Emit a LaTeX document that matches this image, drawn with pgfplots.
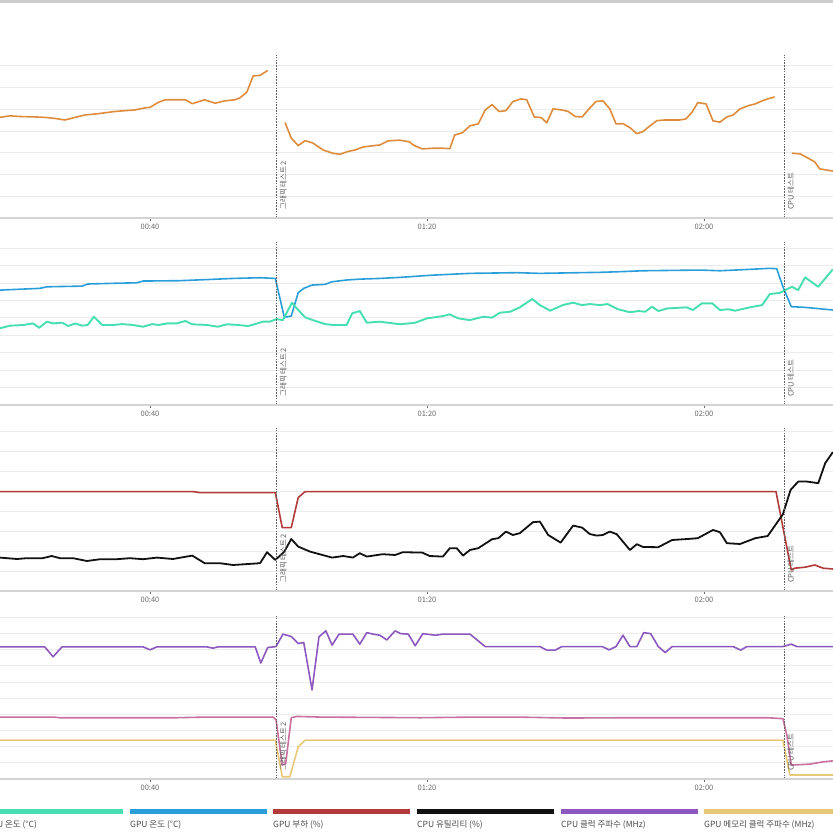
\documentclass[border=0pt]{standalone}
\usepackage{fontspec}
\setmainfont{Noto Sans CJK KR}
\usepackage{pgfplots}
\pgfplotsset{compat=1.18}

\definecolor{cOrange}{RGB}{222,140,60}
\definecolor{cTeal}{RGB}{70,222,178}
\definecolor{cBlue}{RGB}{42,158,216}
\definecolor{cRed}{RGB}{178,58,58}
\definecolor{cBlack}{RGB}{17,17,17}
\definecolor{cPurple}{RGB}{140,88,192}
\definecolor{cPink}{RGB}{202,112,160}
\definecolor{cYellow}{RGB}{230,200,120}
\definecolor{gridgray}{RGB}{236,236,236}
\definecolor{axisgray}{RGB}{212,212,212}
\definecolor{labelgray}{RGB}{105,105,105}
\definecolor{markgray}{RGB}{95,95,95}

\pgfplotsset{
  panel/.style={
    at={(0pt,#1)}, anchor=south west,
    scale only axis, width=833pt, height=163pt,
    xmin=18.34, xmax=138.63, ymin=0,
    axis line style={draw=none},
    xtick={40,80,120}, xticklabels={00:40,01:20,02:00},
    xtick pos=left, tick align=outside, major tick length=3pt,
    xtick style={draw=labelgray, line width=0.6pt},
    ytick style={draw=none}, yticklabels={}, yticklabel style={overlay},
    ymajorgrids, grid style={draw=gridgray, line width=0.8pt},
    xticklabel style={font=\fontsize{7.5}{8}\selectfont, text=labelgray},
    after end axis/.code={
      \draw[axisgray, line width=1.4pt] (rel axis cs:0,0) -- (rel axis cs:1,0);},
  },
}
\tikzset{
  sline/.style={line width=1.6pt, line join=round, #1},
  dashline/.style={draw=markgray, line width=0.9pt, dash pattern=on 1.6pt off 1.2pt},
  vlabel/.style={rotate=90, anchor=north west, inner sep=1pt,
    font=\fontsize{7.5}{8}\selectfont, text=markgray},
}

\begin{document}
\begin{tikzpicture}[trim left=0pt, trim right=833pt]
\path (0,0) rectangle (833pt,833pt);
\fill[black!20] (0,830pt) rectangle (833pt,833pt);

% panel 1
\begin{axis}[panel=615pt, ymax=75, ytick={10,20,...,70}]
\addplot[sline=cOrange] coordinates {
(18.3,46.3)(19.8,47.0)(21.2,46.7)(23.4,46.5)(24.8,46.3)(26.3,45.8)(27.7,45.1)
(29.2,46.3)(30.6,47.4)(32.8,48.1)(34.9,49.0)(36.4,49.4)(37.8,49.7)(39.3,50.7)
(40.0,50.9)(41.2,53.2)(42.2,54.4)(45.1,54.4)(46.1,52.6)(47.9,54.4)(49.4,52.8)
(50.8,53.9)(52.3,54.4)(53.0,55.3)(54.0,58.0)(54.9,65.4)(55.9,65.6)(57.0,67.9)};
\addplot[sline=cOrange] coordinates {
(59.5,43.9)(60.4,36.8)(61.4,33.3)(62.4,35.6)(63.5,34.5)(65.0,31.3)(66.4,29.8)
(67.4,29.3)(68.6,30.6)(69.6,31.3)(70.8,32.7)(72.1,33.2)(73.2,33.6)(74.4,35.5)
(76.1,35.8)(77.5,35.0)(78.0,33.6)(79.3,31.8)(80.9,32.1)(82.3,32.1)(83.3,31.9)
(84.0,38.2)(85.1,39.2)(86.2,42.4)(87.4,43.3)(88.4,49.7)(89.4,52.2)(90.4,49.0)
(91.4,49.4)(92.4,53.6)(93.6,54.8)(94.4,54.4)(95.5,46.5)(96.5,46.2)(97.3,43.8)
(98.2,50.2)(99.5,49.7)(100.4,49.0)(101.4,46.7)(102.4,46.5)(103.4,50.2)(104.4,53.6)
(105.4,53.9)(106.4,50.2)(107.3,43.3)(108.3,43.4)(109.3,41.6)(110.3,38.8)(111.2,39.8)
(112.2,42.4)(113.2,44.8)(114.4,45.1)(116.5,45.1)(117.4,45.6)(118.3,48.8)(119.1,53.1)
(120.3,52.5)(121.3,44.7)(122.3,44.1)(123.3,46.5)(124.2,47.4)(125.2,50.2)(126.4,51.7)
(127.4,52.5)(128.4,53.9)(129.2,54.8)(130.2,55.7)};
\addplot[sline=cOrange] coordinates {
(132.7,29.8)(133.9,29.5)(135.0,27.6)(136.0,25.8)(136.7,22.6)(138.6,21.6)};
\addplot[dashline] coordinates {(58.3,0)(58.3,75)};
\addplot[dashline] coordinates {(131.6,0)(131.6,75)};
\node[vlabel] at ([xshift=2pt,yshift=7pt]axis cs:58.3,0) {그래픽 테스트 2};
\node[vlabel] at ([xshift=2pt,yshift=7pt]axis cs:131.6,0) {CPU 테스트};
\end{axis}

% panel 2
\begin{axis}[panel=428pt, ymax=93.5, ytick={10,20,...,90}]
\addplot[sline=cBlue] coordinates {
(18.3,65.9)(24.1,66.9)(25.1,67.8)(30.2,68.2)(31.0,69.4)(34.7,69.8)(38.1,70.1)
(39.0,71.1)(44.3,71.3)(49.1,72.1)(52.0,72.6)(55.9,73.0)(58.1,72.6)(59.4,50.3)
(60.4,51.0)(61.4,64.4)(62.2,66.9)(63.4,68.8)(65.3,69.2)(66.3,70.7)(68.4,71.7)
(70.3,72.2)(73.2,72.6)(76.1,73.2)(80.9,74.5)(86.2,75.5)(93.0,75.9)(96.3,75.5)
(105.0,76.1)(107.4,76.4)(111.2,77.0)(119.4,77.4)(122.3,77.0)(126.6,77.8)(129.5,78.4)
(130.5,78.2)(131.4,67.8)(132.6,56.4)(134.6,56.0)(138.6,54.5)};
\addplot[sline=cTeal, line width=1.9pt] coordinates {
(18.3,44.0)(19.8,45.5)(21.7,45.9)(23.1,46.8)(24.0,44.3)(25.1,47.8)(26.0,46.8)
(27.3,47.2)(28.2,45.3)(29.2,46.8)(30.2,45.5)(31.0,45.9)(31.9,50.6)(33.1,45.9)
(34.7,45.9)(36.0,46.4)(37.5,45.9)(39.0,44.9)(40.3,46.4)(41.2,45.9)(42.5,46.8)
(43.9,46.8)(45.1,48.2)(46.1,46.3)(48.2,45.9)(49.8,44.9)(51.1,46.3)(52.7,45.9)
(54.2,45.3)(55.5,46.8)(56.3,47.8)(57.3,47.8)(58.3,49.3)(59.2,48.7)(60.5,58.7)
(61.2,55.4)(62.4,50.3)(63.5,48.7)(65.3,46.4)(66.4,45.9)(68.4,45.9)(69.2,52.6)
(70.3,53.9)(71.3,47.2)(73.2,47.8)(76.1,46.3)(78.3,47.2)(80.0,49.7)(82.3,51.0)
(83.3,52.0)(84.5,49.7)(86.2,48.7)(88.1,50.6)(89.4,50.1)(90.5,52.9)(92.0,53.5)
(93.4,56.0)(95.2,60.8)(96.3,57.3)(97.8,54.1)(99.6,57.3)(101.1,58.7)(102.4,57.3)
(103.5,57.9)(105.0,57.3)(106.1,57.9)(107.6,54.9)(109.3,53.2)(110.5,53.9)(111.5,53.5)
(112.5,56.4)(113.4,53.9)(114.7,55.4)(117.5,56.0)(118.4,54.5)(119.7,58.3)(121.2,58.3)
(122.3,54.5)(123.5,54.9)(124.5,54.1)(126.6,56.0)(128.4,57.3)(129.5,63.6)(131.0,64.4)
(131.7,65.9)(132.7,67.8)(133.6,65.9)(134.6,73.2)(136.5,67.8)(138.6,77.8)};
\addplot[dashline] coordinates {(58.3,0)(58.3,93.5)};
\addplot[dashline] coordinates {(131.6,0)(131.6,93.5)};
\node[vlabel] at ([xshift=2pt,yshift=7pt]axis cs:58.3,0) {그래픽 테스트 2};
\node[vlabel] at ([xshift=2pt,yshift=7pt]axis cs:131.6,0) {CPU 테스트};
\end{axis}

% panel 3
\begin{axis}[panel=242pt, ymax=81.5, ytick={10,20,...,80}]
\addplot[sline=cRed] coordinates {
(18.3,49.7)(46.2,49.7)(47.2,49.2)(58.1,49.2)(59.1,31.7)(60.4,31.7)(61.4,46.7)
(62.4,49.7)(130.4,49.7)(132.6,10.5)(133.1,11.4)(134.6,11.9)(136.0,13.0)(137.2,11.4)
(138.6,11.0)};
\addplot[sline=cBlack, line width=1.8pt] coordinates {
(18.3,16.7)(20.8,16.0)(22.2,16.4)(24.5,16.4)(25.8,17.5)(27.0,16.4)(28.9,16.4)
(30.9,15.0)(32.8,15.9)(35.2,15.9)(37.1,16.4)(39.0,15.9)(41.0,16.7)(43.3,16.0)
(46.1,17.7)(47.9,13.9)(50.1,13.9)(52.0,13.0)(55.9,13.9)(56.9,19.4)(58.1,15.5)
(59.4,19.7)(60.4,26.0)(61.4,22.2)(63.1,19.7)(66.3,16.7)(67.9,17.5)(69.3,16.7)
(70.3,18.9)(71.3,17.2)(73.6,18.4)(75.4,18.0)(76.5,19.4)(79.3,19.2)(80.4,17.5)
(82.3,17.2)(83.3,21.4)(84.3,21.4)(85.2,17.7)(86.2,20.5)(87.4,21.4)(89.4,25.9)
(90.3,26.4)(91.4,29.7)(92.4,28.0)(93.4,28.9)(95.3,34.4)(96.3,34.7)(97.5,28.0)
(99.3,24.2)(101.1,32.7)(102.4,31.7)(103.5,28.5)(104.5,27.7)(105.4,28.0)(106.4,29.7)
(107.4,28.4)(109.3,20.5)(110.3,23.4)(111.2,22.0)(113.4,21.9)(115.4,25.5)(117.6,26.0)
(119.1,26.4)(121.3,30.5)(122.3,29.4)(123.3,23.9)(125.2,23.5)(127.4,26.4)(129.2,27.5)
(131.4,38.4)(132.5,50.5)(133.6,54.7)(134.9,54.7)(136.5,53.9)(137.5,63.9)(138.6,69.4)};
\addplot[dashline] coordinates {(58.3,0)(58.3,81.5)};
\addplot[dashline] coordinates {(131.6,0)(131.6,81.5)};
\node[vlabel] at ([xshift=2pt,yshift=7pt]axis cs:58.3,0) {그래픽 테스트 2};
\node[vlabel] at ([xshift=2pt,yshift=7pt]axis cs:131.6,0) {CPU 테스트};
\end{axis}

% panel 4
\begin{axis}[panel=54pt, ymax=100.8, ytick={10,20,...,100}]
\addplot[sline=cPurple] coordinates {
(18.3,81.7)(24.8,81.7)(26.0,75.6)(27.3,81.7)(39.0,81.7)(40.0,79.9)(41.0,81.7)
(48.2,81.7)(49.1,80.9)(49.8,81.7)(55.2,81.7)(56.0,71.7)(57.0,81.3)(58.2,81.9)
(59.2,89.6)(60.4,88.1)(61.4,83.8)(62.2,84.4)(63.4,55.1)(64.4,87.9)(65.4,91.6)
(66.3,82.8)(67.3,89.6)(69.3,89.6)(70.3,83.4)(71.3,90.5)(72.2,89.6)(73.2,88.9)
(74.2,86.0)(75.4,91.6)(76.2,89.9)(77.3,89.6)(78.3,82.4)(79.4,89.9)(81.2,88.9)
(82.3,89.6)(86.2,89.6)(88.4,81.9)(96.3,81.9)(97.3,79.7)(98.5,79.7)(99.5,81.9)
(105.3,81.9)(106.3,79.9)(107.3,81.9)(108.3,88.9)(109.3,81.9)(110.3,81.9)(111.3,90.5)
(112.3,89.9)(113.4,81.9)(114.4,78.2)(115.4,81.9)(124.2,81.9)(125.3,79.7)(126.2,81.9)
(131.4,81.9)(132.6,83.4)(133.4,81.9)(138.6,81.9)};
\addplot[sline=cYellow] coordinates {
(18.3,24.0)(58.1,24.0)(59.1,1.4)(60.2,1.4)(61.4,19.9)(62.4,24.0)(131.4,24.0)
(132.4,2.5)(138.6,2.5)};
\addplot[sline=cPink] coordinates {
(18.3,38.3)(26.0,38.3)(27.0,37.9)(43.9,37.9)(48.2,38.3)(57.8,38.3)(58.2,36.7)
(59.1,8.6)(59.6,9.6)(60.4,37.9)(61.2,38.7)(64.5,38.3)(79.0,37.9)(87.2,38.3)
(93.0,38.3)(100.2,37.7)(109.7,37.9)(129.1,37.9)(131.4,37.3)(132.0,26.4)(132.6,8.6)
(135.3,9.2)(137.2,10.6)(138.6,11.2)};
\addplot[dashline] coordinates {(58.3,0)(58.3,100.8)};
\addplot[dashline] coordinates {(131.6,0)(131.6,100.8)};
\node[vlabel] at ([xshift=2pt,yshift=7pt]axis cs:58.3,0) {그래픽 테스트 2};
\node[vlabel] at ([xshift=2pt,yshift=7pt]axis cs:131.6,0) {CPU 테스트};
\end{axis}

% legend (first entry starts left of the page edge and is cut off there)
\foreach \xl/\col/\lab in {-14/cTeal/{CPU 온도 (°C)}, 130/cBlue/{GPU 온도 (°C)},
    273/cRed/{GPU 부하 (\%)}, 417/cBlack/{CPU 유틸리티 (\%)},
    561/cPurple/{CPU 클럭 주파수 (MHz)}, 704/cYellow/{GPU 메모리 클럭 주파수 (MHz)}} {
  \fill[\col, overlay] (\xl pt,19pt) rectangle ++(137pt,5pt);
  \node[overlay, anchor=west, inner sep=0pt, font=\fontsize{8.5}{9}\selectfont, text=black!70]
    at (\xl pt,8pt) {\lab};
}
\end{tikzpicture}
\end{document}
